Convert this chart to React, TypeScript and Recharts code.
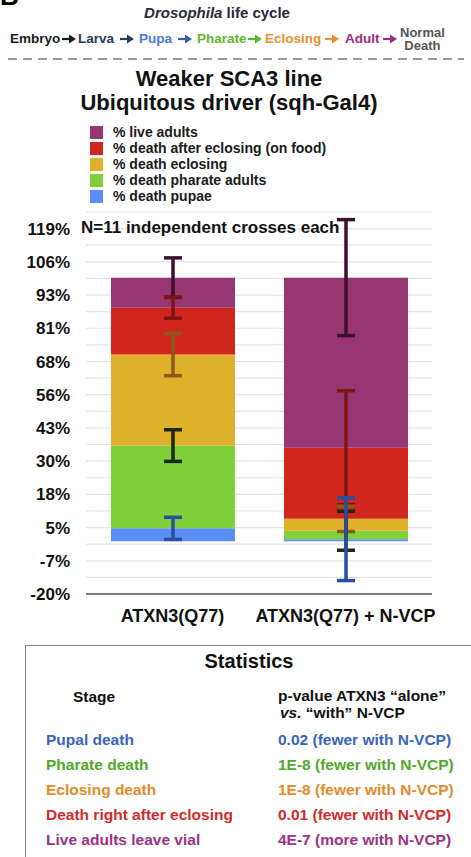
import React from 'react'
import { BarChart, Bar, XAxis, YAxis, CartesianGrid, ErrorBar } from 'recharts'

const categories = ['ATXN3(Q77)', 'ATXN3(Q77) + N-VCP']

// stacked segments, bottom to top (% of crosses)
const deathPupae = [4.9, 0.8]
const deathPharate = [31.4, 3.2]
const deathEclosing = [34.5, 4.5]
const deathAfterEclosing = [17.8, 27.0]
const liveAdults = [11.4, 64.5]

// error bar half-ranges, drawn at the top of each segment
const errPupae = [4.2, 15.7]
const errPharate = [6.0, 7.4]
const errEclosing = [8.0, 4.8]
const errAfterEclosing = [4.0, 21.6]
const errLive = [7.5, 22.0]

const yTicks = [-20, -13.7, -7.4, -1.1, 5.2, 11.5, 17.8, 24.1, 30.4, 36.7, 43, 49.3, 55.6, 61.9, 68.2, 74.5, 80.8, 87.1, 93.4, 99.7, 106, 112.3, 118.6, 124.9]

const series = [
  { key: 'pupae', label: '% death pupae', values: deathPupae, err: errPupae, fill: '#5a8df7', errColor: '#2d4d9e' },
  { key: 'pharate', label: '% death pharate adults', values: deathPharate, err: errPharate, fill: '#80d03a', errColor: '#1b2a14' },
  { key: 'eclosing', label: '% death eclosing', values: deathEclosing, err: errEclosing, fill: '#dfb02a', errColor: '#8a5a1c' },
  { key: 'after', label: '% death after eclosing (on food)', values: deathAfterEclosing, err: errAfterEclosing, fill: '#cf271e', errColor: '#7e1512' },
  { key: 'live', label: '% live adults', values: liveAdults, err: errLive, fill: '#963672', errColor: '#3d1030' },
]

const data = categories.map((name, i) => {
  const row: Record<string, any> = { name }
  let top = 0
  series.forEach(s => {
    top += s.values[i]
    row[s.key] = s.values[i]
    row[s.key + 'Top'] = top
    row[s.key + 'Err'] = s.err[i]
  })
  return row
})

const font = '"Liberation Sans", Arial, Helvetica, sans-serif'

function T({ x, y, size, color = '#111', bold = true, italic = false, center = false, children }: any) {
  const lh = Math.round(size * 1.2)
  return (
    <div style={{
      position: 'absolute', left: center ? x - 300 : x, top: y - lh / 2, width: center ? 600 : undefined,
      textAlign: center ? 'center' : 'left', whiteSpace: 'nowrap', fontSize: size, lineHeight: `${lh}px`,
      fontWeight: bold ? 700 : 400, fontStyle: italic ? 'italic' : 'normal', color,
    }}>{children}</div>
  )
}

function Arrow({ x, y, color }: any) {
  return (
    <svg style={{ position: 'absolute', left: x, top: y - 5 }} width={15} height={10}>
      <line x1={0} x2={9} y1={5} y2={5} stroke={color} strokeWidth={2.2} />
      <path d="M7,0.5 L14,5 L7,9.5 Z" fill={color} />
    </svg>
  )
}

const cycleWords = [
  { text: 'Embryo', x: 10, color: '#1b1b1b' },
  { text: 'Larva', x: 78, color: '#2b3560' },
  { text: 'Pupa', x: 139, color: '#4a78d8' },
  { text: 'Pharate', x: 197, color: '#5cb82a' },
  { text: 'Eclosing', x: 265, color: '#e8902e' },
  { text: 'Adult', x: 345, color: '#9c2d80' },
]
const cycleArrows = [
  { x: 62, color: '#1b1b1b' },
  { x: 120, color: '#2b3560' },
  { x: 178, color: '#3a5ab0' },
  { x: 248, color: '#5cb82a' },
  { x: 325, color: '#e8902e' },
  { x: 383, color: '#9c2d80' },
]

const stats = [
  { stage: 'Pupal death', p: '0.02 (fewer with N-VCP)', color: '#3a64c0' },
  { stage: 'Pharate death', p: '1E-8 (fewer with N-VCP)', color: '#52a82a' },
  { stage: 'Eclosing death', p: '1E-8 (fewer with N-VCP)', color: '#e38a2c' },
  { stage: 'Death right after eclosing', p: '0.01 (fewer with N-VCP)', color: '#d42a2a' },
  { stage: 'Live adults leave vial', p: '4E-7 (more with N-VCP)', color: '#9a3285' },
]

const yTickFmt = (v: number) => (yTicks.indexOf(v) % 2 === 0 ? `${Math.round(v)}%` : '')

export default function App() {
  return (
    <div style={{ position: 'fixed', left: 0, top: 0, width: 471, height: 857, overflow: 'hidden', background: '#fff', fontFamily: font }}>
      <div style={{ position: 'absolute', left: 0, top: -17, fontSize: 26, fontWeight: 700, lineHeight: '26px', color: '#000' }}>B</div>
      <T x={217} y={13} size={15} center color="#2a2a3e">
        <i>Drosophila</i> life cycle
      </T>
      {cycleWords.map((c, i) => <T key={i} x={c.x} y={39} size={13.5} color={c.color}>{c.text}</T>)}
      {cycleArrows.map((a, i) => <Arrow key={i} x={a.x} y={39} color={a.color} />)}
      <div style={{ position: 'absolute', left: 400, top: 26, fontSize: 13, lineHeight: '13px', fontWeight: 700, color: '#555', textAlign: 'center' }}>
        Normal<br />Death
      </div>
      <svg style={{ position: 'absolute', left: 0, top: 57 }} width={471} height={4}>
        <line x1={8} x2={464} y1={2} y2={2} stroke="#9a9a9a" strokeWidth={2} strokeDasharray="9 6" />
      </svg>

      <T x={229} y={79} size={22} center color="#111">Weaker SCA3 line</T>
      <T x={229} y={103} size={22} center color="#111">Ubiquitous driver (sqh-Gal4)</T>

      {[...series].reverse().map((s, i) => (
        <React.Fragment key={s.key}>
          <div style={{ position: 'absolute', left: 90, top: 126 + i * 16, width: 13, height: 13, background: s.fill }} />
          <T x={113} y={132.5 + i * 16} size={14} color="#1a1a1a">{s.label}</T>
        </React.Fragment>
      ))}

      <div style={{ position: 'absolute', left: 0, top: 200 }}>
        <BarChart width={471} height={431} data={data} margin={{ top: 12, right: 39, left: 0, bottom: 0 }}>
          <CartesianGrid vertical={false} stroke="#e4e4e4" strokeWidth={1.2} />
          <XAxis dataKey="name" interval={0} tickLine={false} tickSize={0} tickMargin={15} height={37}
            axisLine={{ stroke: '#555', strokeWidth: 1.5 }}
            tick={{ fontSize: 18, fontWeight: 700, fill: '#111', fontFamily: font }} />
          {series.map(s => <XAxis key={s.key} xAxisId={'e-' + s.key} dataKey="name" hide />)}
          <YAxis type="number" domain={[-20, 124.9]} allowDataOverflow ticks={yTicks} interval={0} width={86}
            axisLine={false} tickLine={false} tickSize={0} tickMargin={16} tickFormatter={yTickFmt}
            tick={{ fontSize: 17, fontWeight: 700, fill: '#111', fontFamily: font }} />
          {series.map(s => (
            <Bar key={s.key} dataKey={s.key} stackId="a" fill={s.fill} barSize={124} isAnimationActive={false} />
          ))}
          {[...series].reverse().map(s => (
            <Bar key={'e' + s.key} xAxisId={'e-' + s.key} dataKey={s.key + 'Top'} fill="none" barSize={124} isAnimationActive={false}>
              <ErrorBar dataKey={(d: any) => (d.payload ?? d)[s.key + 'Err']} direction="y" width={9} strokeWidth={3.5}
                stroke={s.errColor} isAnimationActive={false} />
            </Bar>
          ))}
        </BarChart>
      </div>
      <T x={81} y={228} size={17} color="#111">N=11 independent crosses each</T>

      <div style={{ position: 'absolute', left: 25, top: 645, width: 470, height: 240, border: '1.5px solid #8a8a8a', boxSizing: 'border-box' }} />
      <T x={249} y={661} size={20} center color="#111">Statistics</T>
      <T x={73} y={696} size={15.5} color="#111">Stage</T>
      <T x={278} y={695} size={15.5} color="#111">p-value ATXN3 “alone”</T>
      <T x={280} y={712} size={15.5} color="#111"><i>vs.</i> “with” N-VCP</T>
      {stats.map((r, i) => (
        <React.Fragment key={r.stage}>
          <T x={46} y={739.5 + i * 24.9} size={15.5} color={r.color}>{r.stage}</T>
          <T x={278} y={739.5 + i * 24.9} size={15.5} color={r.color}>{r.p}</T>
        </React.Fragment>
      ))}
    </div>
  )
}
